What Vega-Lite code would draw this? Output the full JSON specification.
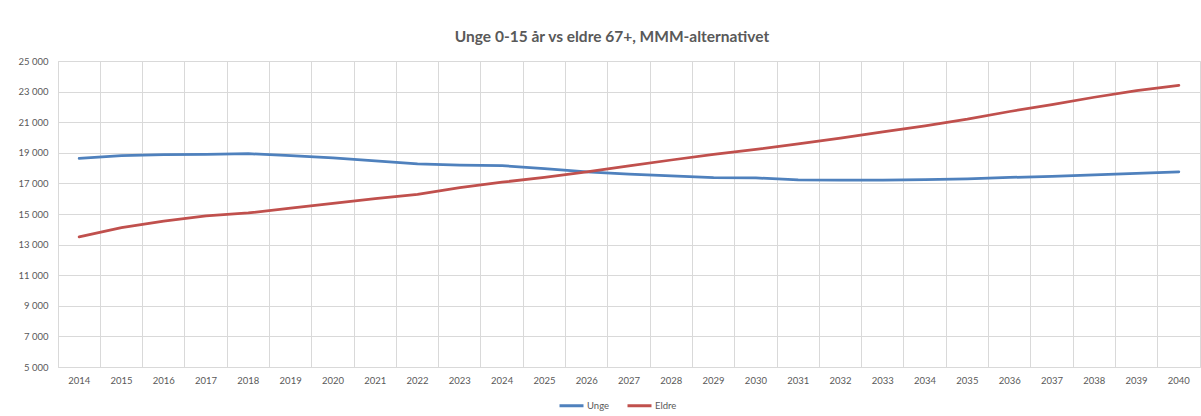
{
  "$schema": "https://vega.github.io/schema/vega-lite/v6.json",
  "width": 1142,
  "height": 306,
  "autosize": {"type": "none"},
  "padding": {"left": 58, "top": 61, "right": 1, "bottom": 49},
  "background": "white",
  "title": {
    "text": "Unge 0-15 år vs eldre 67+, MMM-alternativet",
    "font": "Lato",
    "fontSize": 15.5,
    "fontWeight": "bold",
    "color": "#595959",
    "anchor": "middle",
    "baseline": "middle",
    "offset": 4,
    "dx": -17
  },
  "data": {
    "values": [
      {"year": "2014", "serie": "Unge", "value": 18630},
      {"year": "2015", "serie": "Unge", "value": 18820},
      {"year": "2016", "serie": "Unge", "value": 18880},
      {"year": "2017", "serie": "Unge", "value": 18890},
      {"year": "2018", "serie": "Unge", "value": 18940},
      {"year": "2019", "serie": "Unge", "value": 18820},
      {"year": "2020", "serie": "Unge", "value": 18670},
      {"year": "2021", "serie": "Unge", "value": 18480},
      {"year": "2022", "serie": "Unge", "value": 18280},
      {"year": "2023", "serie": "Unge", "value": 18190},
      {"year": "2024", "serie": "Unge", "value": 18160},
      {"year": "2025", "serie": "Unge", "value": 17960},
      {"year": "2026", "serie": "Unge", "value": 17760},
      {"year": "2027", "serie": "Unge", "value": 17600},
      {"year": "2028", "serie": "Unge", "value": 17490},
      {"year": "2029", "serie": "Unge", "value": 17380},
      {"year": "2030", "serie": "Unge", "value": 17360},
      {"year": "2031", "serie": "Unge", "value": 17230},
      {"year": "2032", "serie": "Unge", "value": 17220},
      {"year": "2033", "serie": "Unge", "value": 17220},
      {"year": "2034", "serie": "Unge", "value": 17240},
      {"year": "2035", "serie": "Unge", "value": 17300},
      {"year": "2036", "serie": "Unge", "value": 17390},
      {"year": "2037", "serie": "Unge", "value": 17455},
      {"year": "2038", "serie": "Unge", "value": 17565},
      {"year": "2039", "serie": "Unge", "value": 17650},
      {"year": "2040", "serie": "Unge", "value": 17760},
      {"year": "2014", "serie": "Eldre", "value": 13500},
      {"year": "2015", "serie": "Eldre", "value": 14110},
      {"year": "2016", "serie": "Eldre", "value": 14540},
      {"year": "2017", "serie": "Eldre", "value": 14870},
      {"year": "2018", "serie": "Eldre", "value": 15070},
      {"year": "2019", "serie": "Eldre", "value": 15390},
      {"year": "2020", "serie": "Eldre", "value": 15700},
      {"year": "2021", "serie": "Eldre", "value": 16000},
      {"year": "2022", "serie": "Eldre", "value": 16280},
      {"year": "2023", "serie": "Eldre", "value": 16730},
      {"year": "2024", "serie": "Eldre", "value": 17080},
      {"year": "2025", "serie": "Eldre", "value": 17400},
      {"year": "2026", "serie": "Eldre", "value": 17760},
      {"year": "2027", "serie": "Eldre", "value": 18150},
      {"year": "2028", "serie": "Eldre", "value": 18530},
      {"year": "2029", "serie": "Eldre", "value": 18890},
      {"year": "2030", "serie": "Eldre", "value": 19220},
      {"year": "2031", "serie": "Eldre", "value": 19580},
      {"year": "2032", "serie": "Eldre", "value": 19960},
      {"year": "2033", "serie": "Eldre", "value": 20370},
      {"year": "2034", "serie": "Eldre", "value": 20760},
      {"year": "2035", "serie": "Eldre", "value": 21195},
      {"year": "2036", "serie": "Eldre", "value": 21700},
      {"year": "2037", "serie": "Eldre", "value": 22150},
      {"year": "2038", "serie": "Eldre", "value": 22630},
      {"year": "2039", "serie": "Eldre", "value": 23065},
      {"year": "2040", "serie": "Eldre", "value": 23413}
    ]
  },
  "mark": {"type": "line", "strokeWidth": 2.75, "strokeCap": "round", "strokeJoin": "round"},
  "encoding": {
    "x": {
      "field": "year",
      "type": "ordinal",
      "scale": {"type": "band", "paddingInner": 0, "paddingOuter": 0},
      "axis": {
        "title": null,
        "bandPosition": 0,
        "labelAngle": 0,
        "labelFont": "Lato",
        "labelFontSize": 9.5,
        "labelColor": "#595959",
        "labelPadding": 8,
        "ticks": false,
        "domain": false,
        "grid": true,
        "gridColor": "#d9d9d9",
        "gridWidth": 1
      }
    },
    "y": {
      "field": "value",
      "type": "quantitative",
      "scale": {"domain": [5000, 25000], "nice": false, "zero": false},
      "axis": {
        "title": null,
        "values": [5000, 7000, 9000, 11000, 13000, 15000, 17000, 19000, 21000, 23000, 25000],
        "labelExpr": "replace(format(datum.value, ','), ',', ' ')",
        "labelFont": "Lato",
        "labelFontSize": 9.5,
        "labelColor": "#595959",
        "labelPadding": 10,
        "ticks": false,
        "domain": false,
        "gridColor": "#d9d9d9",
        "gridWidth": 1
      }
    },
    "color": {
      "field": "serie",
      "type": "nominal",
      "scale": {"domain": ["Unge", "Eldre"], "range": ["#4F81BD", "#C0504D"]},
      "legend": {
        "title": null,
        "orient": "none",
        "direction": "horizontal",
        "legendX": 500,
        "legendY": 331,
        "symbolType": "stroke",
        "symbolSize": 576,
        "symbolStrokeWidth": 3,
        "labelFont": "Lato",
        "labelFontSize": 9.5,
        "labelColor": "#595959",
        "labelOffset": 2,
        "columnPadding": 11,
        "padding": 0
      }
    }
  },
  "config": {
    "view": {"stroke": "#d9d9d9", "strokeWidth": 1}
  }
}
